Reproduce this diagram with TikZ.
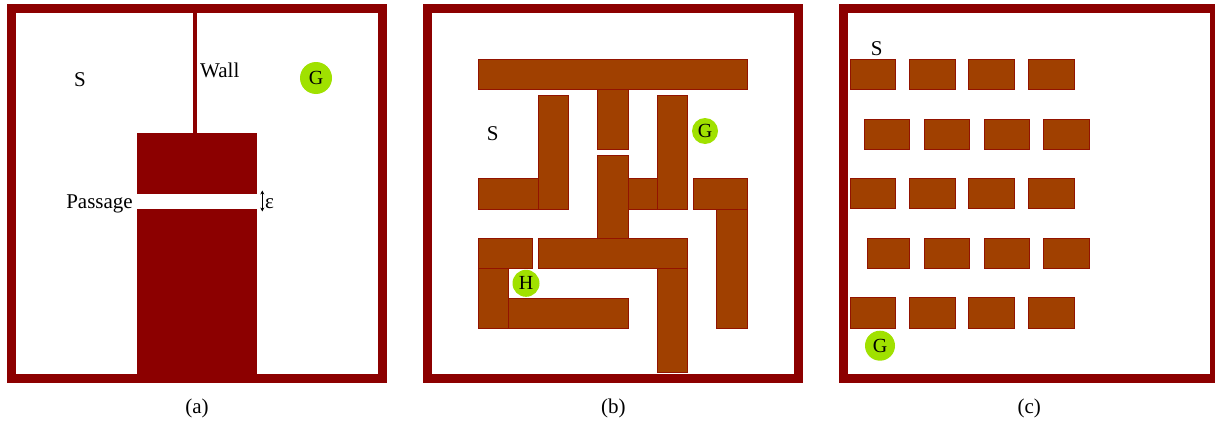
\documentclass[tikz,border=0pt]{standalone}
\usepackage{fontspec}
\setmainfont{Liberation Serif}
\usetikzlibrary{arrows.meta}
\definecolor{framered}{RGB}{140,0,0}
\definecolor{brick}{RGB}{160,64,0}
\definecolor{lime}{RGB}{160,225,0}
\tikzset{
 frame/.style={draw=framered, line width=9pt},
 block/.style={fill=brick, draw=framered!70!brick, line width=0.6pt},
 solidblock/.style={fill=framered},
 goal/.style={circle, fill=lime, inner sep=0pt, minimum size=#1, font=\fontsize{20}{20}\selectfont},
 lbl/.style={font=\fontsize{21}{21}\selectfont, inner sep=0pt},
}
\begin{document}
\begin{tikzpicture}[x=1pt,y=-1pt]
\useasboundingbox (0,0) rectangle (1215,423);
\fill[white] (0,0) rectangle (1215,423);

% ---------- (a) ----------
\draw[frame] (11.5,8.5) rectangle (382.5,378.5);
\fill[solidblock] (193.3,13) rectangle (197.3,134);
\fill[solidblock] (136.7,133.3) rectangle (257,194);
\fill[solidblock] (136.7,208.7) rectangle (257,378);
\node[lbl, anchor=base] (sa) at (80,86) {S};
\node[lbl, anchor=base west] (wall) at (200,77.3) {Wall};
\node[goal=32pt] (ga) at (316,78) {G};
\node[lbl, anchor=base east] (passage) at (133,208.5) {Passage};
\coordinate (epsTop) at (262.3,190.5);
\coordinate (epsBot) at (262.3,211.5);
\draw[{Stealth[length=4pt,width=4pt]}-{Stealth[length=4pt,width=4pt]}, line width=1pt] (epsTop) -- (epsBot);
\node[lbl, anchor=base west] (eps) at (265,208.5) {ε};
\node[lbl, anchor=base] (capa) at (197,413) {(a)};

% ---------- (b) ----------
\draw[frame] (427.7,8.5) rectangle (798.3,378.5);
\draw[block] (478.3,59.3) rectangle (747.3,89.3);
\draw[block] (538.3,95) rectangle (568.3,209);
\draw[block] (478.3,178.3) rectangle (538.3,209);
\draw[block] (597.7,89.3) rectangle (628.3,149.3);
\draw[block] (597.7,155) rectangle (628.3,238.3);
\draw[block] (628.3,178.3) rectangle (657.7,209);
\draw[block] (657.7,95) rectangle (687.3,209);
\draw[block] (693,178.3) rectangle (747.3,209);
\draw[block] (716.7,209) rectangle (747.3,328);
\draw[block] (478.3,238.3) rectangle (532.7,268.3);
\draw[block] (538.3,238.3) rectangle (687.3,268.3);
\draw[block] (657.7,268.3) rectangle (687.3,372.7);
\draw[block] (478.3,268.3) rectangle (508.3,328);
\draw[block] (508.3,298.3) rectangle (628.3,328);
\node[lbl, anchor=base] (sb) at (492.7,140) {S};
\node[goal=26pt] (gb) at (705,131) {G};
\node[goal=27pt] (hb) at (526,283.3) {H};
\node[lbl, anchor=base] (capb) at (613.3,413) {(b)};

% ---------- (c) ----------
\draw[frame] (843.8,8.5) rectangle (1214.5,378.5);
\foreach \y in {59.3,178.3,297.7} {
  \foreach \x in {850,909.3,968.7,1028.3} {
    \draw[block] (\x,\y) rectangle ++(45.5,30.3);
  }
}
\foreach \x in {864,924,984,1043.7} {
  \draw[block] (\x,119) rectangle ++(45.5,30.3);
}
\draw[block] (867,238.3) rectangle ++(42.7,30);
\foreach \x in {924,984,1043.7} {
  \draw[block] (\x,238.3) rectangle ++(45.5,30);
}
\node[lbl, anchor=base] (sc) at (876.7,55.7) {S};
\node[goal=30pt] (gc) at (880,345.7) {G};
\node[lbl, anchor=base] (capc) at (1029.3,413) {(c)};
\end{tikzpicture}
\end{document}
